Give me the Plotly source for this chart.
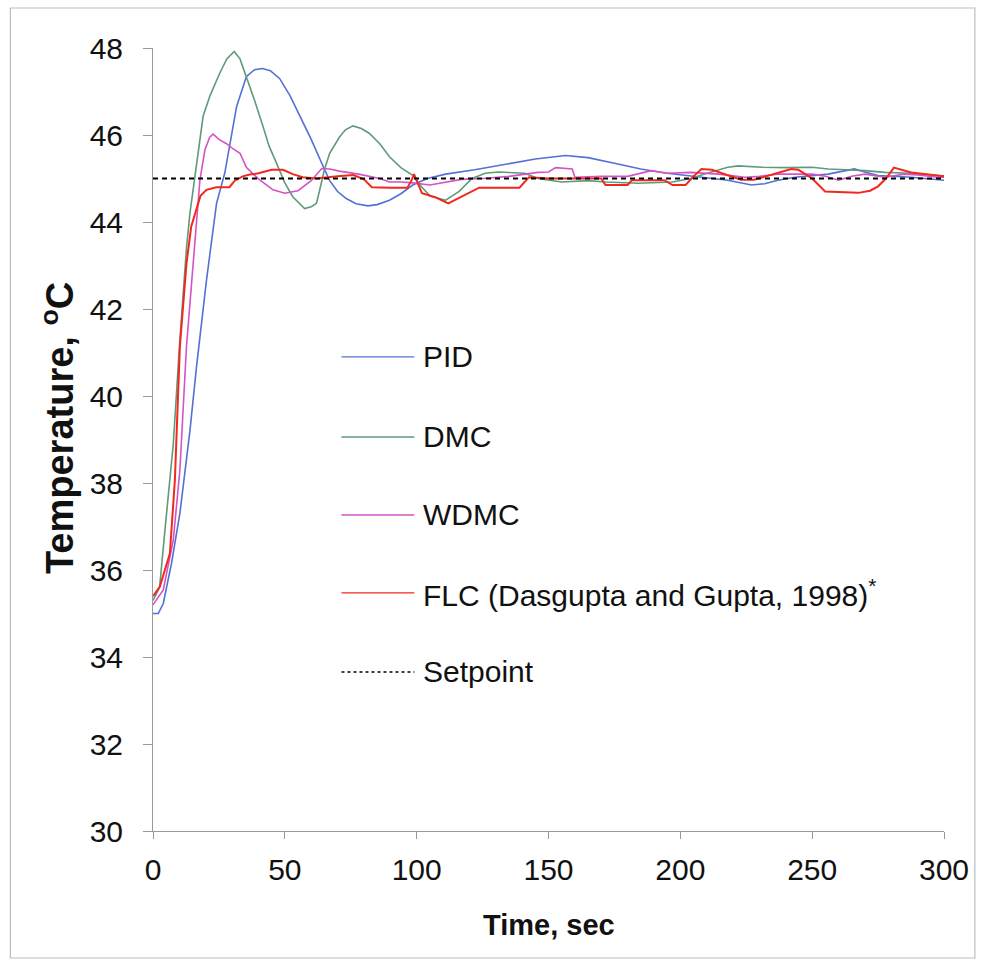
import plotly.graph_objects as go

# Step response of the temperature loop under four controllers
pid_t = [0, 2, 3.9, 7, 10.2, 14, 16.5, 20.3, 24.1, 27.2, 31.7, 35.4, 38.5, 41.5, 44.5, 48, 52, 56,
         60, 64, 67, 70, 73.3, 77, 81.5, 85, 89.7, 94, 98.5, 104, 111, 122, 135, 145, 156.5, 165,
         175, 185, 195, 203, 210, 218, 227, 232, 237, 243.5, 256, 266, 270, 275, 287.6, 300]
pid_y = [35.0, 35.0, 35.23, 36.15, 37.3, 39.2, 40.67, 42.67, 44.43, 45.12, 46.65, 47.34, 47.5, 47.53,
         47.48, 47.3, 46.9, 46.4, 45.9, 45.35, 44.95, 44.7, 44.54, 44.42, 44.37, 44.4, 44.5, 44.65,
         44.85, 45.0, 45.1, 45.2, 45.35, 45.45, 45.53, 45.48, 45.35, 45.22, 45.12, 45.07, 45.02,
         44.96, 44.85, 44.88, 44.96, 45.03, 45.1, 45.22, 45.15, 45.07, 45.03, 44.96]

dmc_t = [0, 2.5, 4.5, 7.7, 10.2, 12.7, 14, 16.5, 19, 21.6, 25.3, 28, 30.8, 33, 35.4, 38.5, 41.7, 44,
         46.8, 50, 53, 57.5, 60, 62, 63.2, 65, 67, 70.8, 73, 75.8, 79, 82, 86, 89.7, 94, 98.5, 102,
         105, 111, 116, 121, 126, 131, 141, 146, 155, 165, 171.7, 184, 197, 204, 209.5, 218, 222,
         231, 240, 250, 256, 263, 270, 277.6, 287.6, 297.8, 300]
dmc_y = [35.3, 35.6, 36.9, 38.9, 41.3, 43.4, 44.2, 45.27, 46.43, 46.9, 47.42, 47.75, 47.92, 47.75,
         47.34, 46.8, 46.2, 45.75, 45.36, 44.9, 44.58, 44.31, 44.35, 44.43, 44.73, 45.2, 45.58,
         45.96, 46.12, 46.21, 46.15, 46.04, 45.8, 45.5, 45.25, 45.07, 44.8, 44.6, 44.5, 44.7, 45.0,
         45.12, 45.15, 45.12, 45.0, 44.92, 44.95, 44.92, 44.89, 44.92, 45.0, 45.11, 45.26, 45.29,
         45.26, 45.25, 45.26, 45.22, 45.2, 45.18, 45.14, 45.12, 45.07, 45.05]

wdmc_t = [0, 3.9, 7.7, 10.2, 12.7, 15.2, 17.8, 19.7, 21.5, 22.8, 25, 27.9, 30, 33, 35.4, 38, 40.5,
          45.5, 50, 55, 60, 64, 67, 70.7, 78, 86, 89.7, 94, 98.5, 105, 111, 117, 125, 135, 146, 150,
          152.7, 159, 160, 170, 180, 189, 195, 204, 214.5, 224.6, 230, 237, 250, 255, 260, 265, 270,
          277.6, 285, 290, 297.8, 300]
wdmc_y = [35.2, 35.54, 36.69, 38.3, 41.14, 43.05, 44.97, 45.66, 45.95, 46.02, 45.9, 45.8, 45.7,
          45.58, 45.26, 45.1, 44.97, 44.74, 44.66, 44.72, 44.95, 45.23, 45.22, 45.17, 45.1, 45.0,
          44.92, 44.92, 44.9, 44.85, 44.92, 44.98, 45.0, 45.05, 45.14, 45.15, 45.25, 45.22, 45.03,
          45.05, 45.05, 45.18, 45.12, 45.14, 45.1, 45.03, 45.05, 45.1, 45.1, 45.05, 44.96, 45.05,
          45.1, 45.03, 45.1, 45.08, 45.03, 45.03]

flc_t = [0, 2.6, 6.4, 8.3, 10.2, 12.7, 14.5, 16.5, 18, 20.3, 24, 29, 31, 34, 36.7, 40, 45, 49.3, 53,
         56.8, 62, 70, 76, 80, 83, 90, 96.5, 98, 99, 102, 107, 112, 118, 123.7, 139, 142.6, 150, 160,
         170, 171.6, 180, 181.6, 194, 197, 202, 205, 208, 212, 215.7, 223, 228, 235, 242, 244.8, 250,
         254.9, 267.5, 272, 275, 278, 281, 287.6, 296.5, 300]
flc_y = [35.4, 35.62, 36.38, 38.07, 41.14, 43.05, 43.9, 44.27, 44.6, 44.74, 44.8, 44.8, 44.95, 45.05,
         45.09, 45.12, 45.2, 45.2, 45.1, 45.03, 45.0, 45.05, 45.08, 44.98, 44.8, 44.79, 44.79, 44.95,
         45.1, 44.66, 44.57, 44.43, 44.62, 44.79, 44.79, 45.03, 45.0, 45.0, 45.0, 44.85, 44.85,
         44.96, 44.96, 44.85, 44.85, 45.05, 45.22, 45.2, 45.12, 44.97, 44.97, 45.1, 45.22, 45.2,
         45.0, 44.7, 44.67, 44.72, 44.82, 45.0, 45.25, 45.14, 45.07, 45.05]

setpoint_t = [0, 300]
setpoint_y = [45, 45]

x_ticks = [0, 50, 100, 150, 200, 250, 300]
y_ticks = [30, 32, 34, 36, 38, 40, 42, 44, 46, 48]

series = [
    ("PID", pid_t, pid_y, "#5470d4", 1.6, "solid"),
    ("DMC", dmc_t, dmc_y, "#5f9a7c", 1.6, "solid"),
    ("WDMC", wdmc_t, wdmc_y, "#d454c4", 1.6, "solid"),
    ("FLC (Dasgupta and Gupta, 1998)<sup>*</sup>", flc_t, flc_y, "#f2281c", 2.0, "solid"),
    ("Setpoint", setpoint_t, setpoint_y, "#000000", 2.2, "5px,4px"),
]

FONT = "Liberation Sans, Arial, sans-serif"

fig = go.Figure()
for name, t, y, color, width, dash in series:
    fig.add_trace(go.Scatter(x=t, y=y, mode="lines", name=name,
                             line=dict(color=color, width=width, dash=dash),
                             showlegend=False))

# In-plot key: long line samples with labels beside them
key_rows = [0.6054, 0.5032, 0.4036, 0.3040, 0.2031]
for (name, _, _, color, width, dash), yk in zip(series, key_rows):
    fig.add_shape(type="line", xref="paper", yref="paper",
                  x0=0.2383, x1=0.3304, y0=yk, y1=yk,
                  line=dict(color=color, width=1.3 if dash == "solid" else 1.5,
                            dash="solid" if dash == "solid" else "dot"))
    fig.add_annotation(xref="paper", yref="paper", x=0.3392, y=yk, text=name,
                       showarrow=False, xanchor="left", yanchor="middle",
                       font=dict(family=FONT, size=30, color="#111111"))

# Outer frame around the whole figure
fig.add_shape(type="rect", xref="paper", yref="paper",
              x0=-0.1803, x1=1.039, y0=-0.1622, y1=1.0511,
              line=dict(color="#bdbdbd", width=1.2), layer="below")

# Axis titles
fig.add_annotation(xref="paper", yref="paper", x=0.5, y=-0.120, text="<b>Time, sec</b>",
                   showarrow=False, xanchor="center", yanchor="middle",
                   font=dict(family=FONT, size=29, color="#111111"))
fig.add_annotation(xref="paper", yref="paper", x=-0.121, y=0.515,
                   text="<b>Temperature, <sup>o</sup>C</b>", textangle=-90,
                   showarrow=False, xanchor="center", yanchor="middle",
                   font=dict(family=FONT, size=38, color="#111111"))

axis_common = dict(showgrid=False, zeroline=False, showline=True, linecolor="#9a9a9a",
                   linewidth=1, ticks="outside", tickcolor="#9a9a9a", tickwidth=1,
                   tickfont=dict(family=FONT, size=30, color="#111111"))

fig.update_xaxes(range=[0, 300], tickvals=x_ticks, ticklen=7, ticklabelstandoff=5,
                 **axis_common)
fig.update_yaxes(range=[30, 48], tickvals=y_ticks, ticklen=9, ticklabelstandoff=14,
                 **axis_common)

fig.update_layout(width=981, height=965, autosize=False,
                  margin=dict(l=153, r=35, t=48, b=134),
                  paper_bgcolor="white", plot_bgcolor="white",
                  font=dict(family=FONT))

fig.write_html("out.html")
